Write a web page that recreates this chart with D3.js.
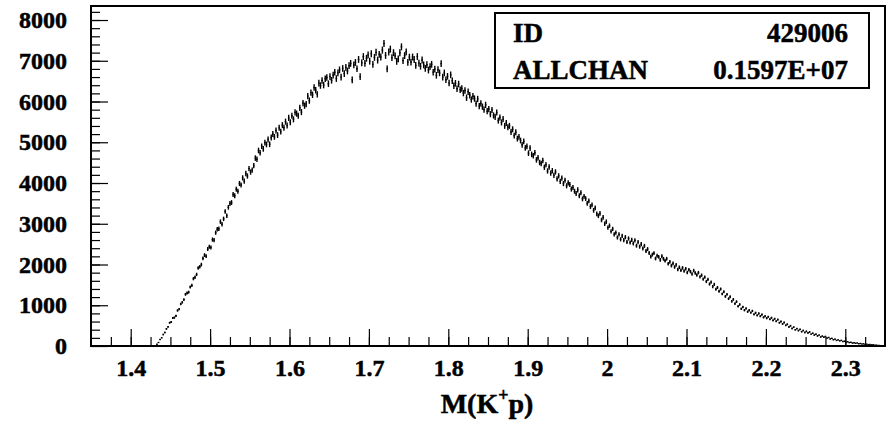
<!DOCTYPE html>
<html>
<head>
<meta charset="utf-8">
<script src="https://cdn.jsdelivr.net/npm/d3@7"></script>
<style>
	body { margin: 0; background: white; }
	text { font-family: "Liberation Serif", "Times New Roman", serif; font-weight: bold; }
</style>
</head>
<body>
<div id="histview"></div>
<script>
// histogram 429006, bins of 0.002 starting at 1.432 (empty below / above)
const firstEdge = 1.432
const binWidth = 0.002
const counts = [
	44, 86, 158, 203, 281, 332, 421, 469, 571, 589,
	688, 698, 741, 872, 905, 1031, 1072, 1139, 1268, 1301,
	1321, 1447, 1489, 1652, 1688, 1757, 1913, 1946, 1998, 2153,
	2231, 2204, 2378, 2436, 2419, 2612, 2598, 2781, 2866, 2877,
	3052, 2987, 3119, 3301, 3196, 3404, 3497, 3521, 3718, 3689,
	3849, 3796, 3988, 3951, 4126, 4044, 4233, 4171, 4352, 4268,
	4315, 4427, 4611, 4582, 4798, 4744, 4902, 4837, 4991, 4946,
	5068, 4951, 5117, 5203, 5132, 5289, 5176, 5354, 5262, 5421,
	5357, 5506, 5412, 5598, 5489, 5651, 5563, 5734, 5702, 5652,
	5846, 5741, 5962, 5897, 5938, 6131, 6022, 6218, 6164, 6341,
	6278, 6176, 6451, 6392, 6517, 6403, 6559, 6588, 6437, 6612,
	6521, 6647, 6718, 6563, 6702, 6777, 6599, 6812, 6685, 6839,
	6748, 6879, 6936, 6531, 6897, 6958, 6804, 7032, 6612, 6947,
	7102, 6938, 7061, 7145, 6989, 7174, 6912, 7083, 7207, 7016,
	7158, 7093, 7262, 7425, 7131, 6801, 7214, 7286, 7076, 7198,
	7121, 6985, 7046, 7198, 7342, 7003, 7127, 7219, 6962, 7088,
	6968, 7092, 7031, 6887, 7104, 6942, 6865, 7018, 6899, 6812,
	6903, 6771, 6854, 6912, 6718, 6795, 6642, 6781, 6702, 6931,
	6598, 6701, 6534, 6618, 6452, 6655, 6511, 6388, 6447, 6312,
	6429, 6287, 6318, 6207, 6271, 6093, 6238, 6155, 6048, 6129,
	6071, 5948, 6062, 5889, 5952, 5873, 5801, 5918, 5762, 5815,
	5689, 5792, 5658, 5624, 5731, 5532, 5608, 5486, 5569, 5402,
	5473, 5368, 5402, 5251, 5319, 5163, 5247, 5089, 5131, 5042,
	4938, 5021, 4862, 4897, 4731, 4856, 4702, 4668, 4743, 4568,
	4621, 4503, 4478, 4552, 4387, 4451, 4296, 4392, 4241, 4302,
	4187, 4273, 4104, 4176, 4039, 4121, 3986, 4068, 3931, 4002,
	3962, 3851, 3889, 3797, 3741, 3832, 3688, 3759, 3611, 3672,
	3617, 3498, 3562, 3421, 3463, 3329, 3387, 3242, 3196, 3253,
	3092, 3157, 2998, 3052, 2904, 2953, 2812, 2873, 2738, 2782,
	2664, 2739, 2618, 2702, 2597, 2671, 2552, 2639, 2541, 2603,
	2517, 2591, 2462, 2548, 2437, 2501, 2392, 2458, 2331, 2379,
	2281, 2192, 2243, 2278, 2147, 2215, 2186, 2112, 2203, 2139,
	2092, 2141, 2018, 2064, 1972, 2026, 1938, 1991, 1876, 1932,
	1858, 1917, 1842, 1896, 1804, 1873, 1825, 1769, 1851, 1793,
	1742, 1801, 1697, 1738, 1642, 1689, 1583, 1636, 1521, 1567,
	1458, 1512, 1391, 1437, 1342, 1398, 1279, 1331, 1216, 1268,
	1162, 1208, 1097, 1143, 1041, 1089, 973, 1019, 912, 958,
	879, 923, 842, 876, 819, 861, 777, 815, 752, 798,
	731, 772, 702, 734, 681, 717, 656, 693, 629, 668,
	608, 647, 572, 603, 541, 578, 508, 532, 468, 497,
	431, 462, 398, 427, 379, 408, 352, 381, 333, 359,
	318, 344, 291, 312, 268, 289, 247, 266, 221, 243,
	216, 234, 193, 209, 172, 187, 154, 169, 136, 151,
	126, 138, 109, 117, 96, 104, 83, 91, 72, 79,
	68, 74, 57, 62, 49, 53, 41, 45, 34, 38,
	29, 31, 20, 22, 14, 12, 7, 5, 2
]

const xDomain = [1.35, 2.35]
const yDomain = [0, 8344]
const xMajorTicks = [1.4, 1.5, 1.6, 1.7, 1.8, 1.9, 2.0, 2.1, 2.2, 2.3]
const xTickLabels = ["1.4", "1.5", "1.6", "1.7", "1.8", "1.9", "2", "2.1", "2.2", "2.3"]
const yMajorTicks = [0, 1000, 2000, 3000, 4000, 5000, 6000, 7000, 8000]
const xTitle = ["M(K", "+", "p)"]
const statNames = ["ID", "ALLCHAN"]
const statValues = ["429006", "0.1597E+07"]

const width = 886
const height = 426
const frameL = 91, frameR = 885, frameT = 6, frameB = 346

const x = d3.scaleLinear().domain(xDomain).range([frameL, frameR])
const y = d3.scaleLinear().domain(yDomain).range([frameB, frameT])

const svg = d3.select("#histview")
	.append("svg")
	.attr("width", width)
	.attr("height", height)

// minor ticks every 0.025 / 200
const xMinor = d3.range(0, 41).map(function (i) { return xDomain[0] + i * 0.025 })
	.filter(function (v) { return v > xDomain[0] + 1e-6 && v < xDomain[1] - 1e-6 })
const yMinor = d3.range(0, 42).map(function (i) { return i * 200 })
	.filter(function (v) { return v > 0 && v < yDomain[1] })

function labelStyle(g) {
	g.selectAll("text")
		.attr("font-size", 24)
		.attr("fill", "black")
		.attr("stroke", "black")
		.attr("stroke-width", 0.5)
		.attr("font-family", "Liberation Serif")
		.attr("font-weight", "bold")
}

svg.append("g")
	.attr("transform", "translate(0," + frameB + ")")
	.call(d3.axisBottom(x).tickValues(xMinor).tickSize(-9).tickFormat(""))
	.call(g => g.select(".domain").remove())

svg.append("g")
	.attr("transform", "translate(0," + frameB + ")")
	.call(d3.axisBottom(x).tickValues(xMajorTicks).tickSize(-17).tickPadding(13)
		.tickFormat(function (d, i) { return xTickLabels[i] }))
	.call(g => g.select(".domain").remove())
	.call(labelStyle)

svg.append("g")
	.attr("transform", "translate(" + frameL + ",0)")
	.call(d3.axisLeft(y).tickValues(yMinor).tickSize(-9).tickFormat(""))
	.call(g => g.select(".domain").remove())

svg.append("g")
	.attr("transform", "translate(" + frameL + ",0)")
	.call(d3.axisLeft(y).tickValues(yMajorTicks).tickSize(-17).tickPadding(24)
		.tickFormat(d3.format("d")))
	.call(g => g.select(".domain").remove())
	.call(labelStyle)

svg.selectAll(".tick line").attr("stroke", "black").attr("stroke-width", 1.2)

// frame
svg.append("rect")
	.attr("x", frameL)
	.attr("y", frameT)
	.attr("width", frameR - frameL)
	.attr("height", frameB - frameT)
	.attr("fill", "none")
	.attr("stroke", "black")
	.attr("stroke-width", 2)

// histogram with poisson error bars
const bins = counts.map(function (n, i) {
	return { lo: firstEdge + i * binWidth, hi: firstEdge + (i + 1) * binWidth, n: n }
})
const hist = svg.append("g").attr("stroke", "black").attr("stroke-width", 1.4)
hist.selectAll(".err")
	.data(bins)
	.enter()
	.append("line")
	.attr("class", "err")
	.attr("x1", d => x((d.lo + d.hi) / 2))
	.attr("x2", d => x((d.lo + d.hi) / 2))
	.attr("y1", d => y(d.n - Math.sqrt(d.n)))
	.attr("y2", d => y(d.n + Math.sqrt(d.n)))
hist.selectAll(".bin")
	.data(bins)
	.enter()
	.append("line")
	.attr("class", "bin")
	.attr("x1", d => x(d.lo))
	.attr("x2", d => x(d.hi))
	.attr("y1", d => y(d.n))
	.attr("y2", d => y(d.n))

// axis title
const title = svg.append("text")
	.attr("x", 487)
	.attr("y", 413)
	.attr("text-anchor", "middle")
	.attr("font-size", 28)
	.attr("fill", "black")
	.attr("stroke", "black")
	.attr("stroke-width", 0.5)
title.append("tspan").text(xTitle[0])
title.append("tspan").attr("dy", -12).attr("font-size", 18).text(xTitle[1])
title.append("tspan").attr("dy", 12).text(xTitle[2])

// stats box
svg.append("rect")
	.attr("x", 495)
	.attr("y", 13)
	.attr("width", 374)
	.attr("height", 75)
	.attr("fill", "white")
	.attr("stroke", "black")
	.attr("stroke-width", 2)

svg.selectAll(".statname")
	.data(statNames)
	.enter()
	.append("text")
	.attr("class", "statname")
	.attr("x", 513)
	.attr("y", (d, i) => 42 + i * 37)
	.attr("font-size", 27)
	.attr("fill", "black")
	.attr("stroke", "black")
	.attr("stroke-width", 0.5)
	.text(d => d)

svg.selectAll(".statval")
	.data(statValues)
	.enter()
	.append("text")
	.attr("class", "statval")
	.attr("x", 848)
	.attr("y", (d, i) => 42 + i * 37)
	.attr("text-anchor", "end")
	.attr("font-size", 27)
	.attr("fill", "black")
	.attr("stroke", "black")
	.attr("stroke-width", 0.5)
	.text(d => d)
</script>
</body>
</html>
